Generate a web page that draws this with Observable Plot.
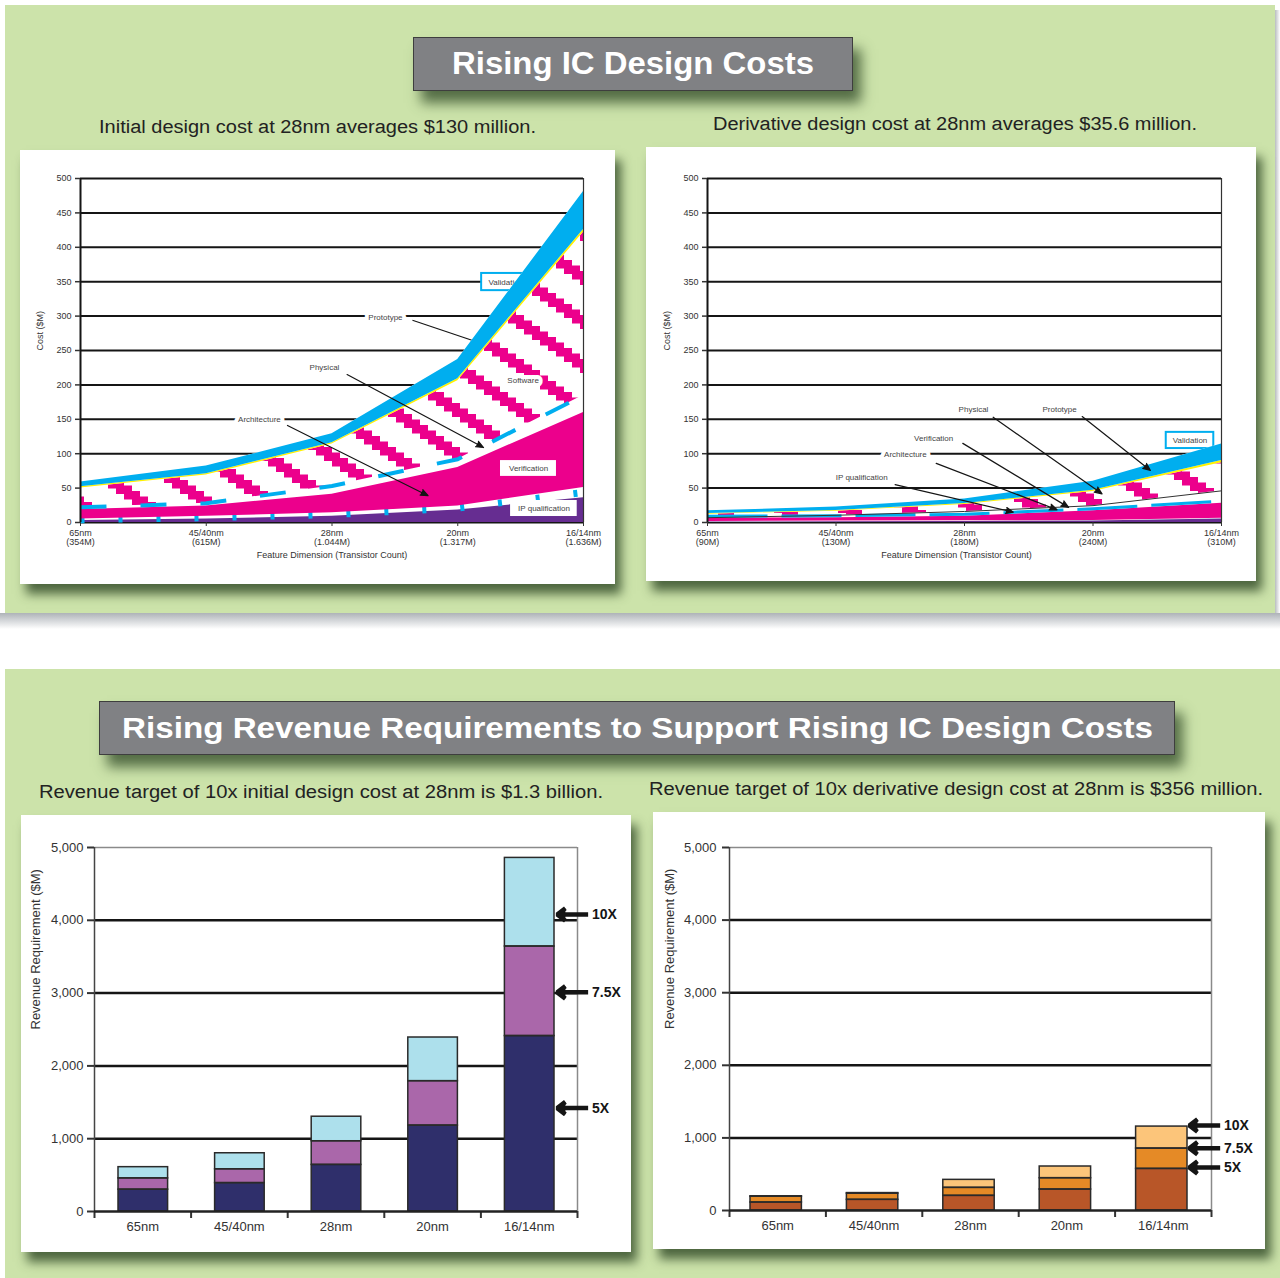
<!DOCTYPE html>
<html>
<head>
<meta charset="utf-8">
<script src="https://cdn.jsdelivr.net/npm/d3@7"></script>
<script src="https://cdn.jsdelivr.net/npm/@observablehq/plot@0.6"></script>
<style>
  html, body { margin: 0; padding: 0; }
  body { width: 1280px; height: 1278px; position: relative; background: #fff; overflow: hidden;
         font-family: "Liberation Sans", Arial, Helvetica, sans-serif; }
  .panel { position: absolute; background: #cce3aa; }
  .card { position: absolute; background: #fff; box-shadow: 6px 10px 10px rgba(55, 80, 45, 0.85); }
  .card svg { position: absolute; left: 0; top: 0; }
  .titlebox { position: absolute; background: #808184; border: 1px solid #3e3e3e; box-sizing: border-box;
              box-shadow: 8px 12px 12px rgba(55, 80, 45, 0.8); overflow: visible; }
  .titlebox span { position: absolute; left: 0; top: 50%; white-space: nowrap; color: #fff; font-weight: bold;
                   transform-origin: 0 50%; }
  .sub { position: absolute; white-space: nowrap; color: #222; font-size: 18px; transform-origin: 0 50%; }
</style>
</head>
<body>
<div class="panel" style="left:5px;top:5px;width:1270px;height:608px"></div>
<div style="position:absolute;left:0;top:613px;width:1280px;height:16px;background:linear-gradient(#aeb3b8,#ffffff)"></div>
<div style="position:absolute;left:1275px;top:10px;width:5px;height:603px;background:linear-gradient(90deg,#b9bdc0,#ffffff)"></div>
<div class="panel" style="left:5px;top:669px;width:1275px;height:609px"></div>

<div class="titlebox" id="t1" style="left:413px;top:37px;width:440px;height:54px"><span data-w="362" style="font-size:31px">Rising IC Design Costs</span></div>
<div class="sub" data-w="437" style="left:99px;top:117px">Initial design cost at 28nm averages $130 million.</div>
<div class="sub" data-w="484" style="left:713px;top:114px">Derivative design cost at 28nm averages $35.6 million.</div>
<div class="card" id="c1" style="left:20px;top:150px;width:595px;height:434px"></div>
<div class="card" id="c2" style="left:646px;top:147px;width:610px;height:434px"></div>

<div class="titlebox" id="t2" style="left:99px;top:701px;width:1076px;height:54px"><span data-w="1031" style="font-size:30px">Rising Revenue Requirements to Support Rising IC Design Costs</span></div>
<div class="sub" data-w="564" style="left:39px;top:782px">Revenue target of 10x initial design cost at 28nm is $1.3 billion.</div>
<div class="sub" data-w="614" style="left:649px;top:779px">Revenue target of 10x derivative design cost at 28nm is $356 million.</div>
<div class="card" id="c3" style="left:21px;top:815px;width:610px;height:437px"></div>
<div class="card" id="c4" style="left:653px;top:812px;width:612px;height:437px"></div>

<script>
// ---------------- DATA ----------------
const nodes = ["65nm", "45/40nm", "28nm", "20nm", "16/14nm"];
const initialTransistors = ["354M", "615M", "1.044M", "1.317M", "1.636M"];
const derivativeTransistors = ["90M", "130M", "180M", "240M", "310M"];
const costTicks = [0, 50, 100, 150, 200, 250, 300, 350, 400, 450, 500];
const revenueTicks = [0, 1000, 2000, 3000, 4000, 5000];
const revenueLevels = ["5X", "7.5X", "10X"];

// Initial design cost ($M): cumulative top of each stacked activity band
const initIPQualification = [3, 5, 9, 18, 36];
const initArchitecture    = [5, 9, 14, 24, 51];
const initVerification    = [19, 24, 41, 80, 160];
const initPhysical        = [22, 28, 53, 92, 185];
const initSoftware        = [50, 69, 114, 206, 422];
const initPrototype       = [52, 71, 116, 209, 426];
const initValidation      = [59, 82, 129, 237, 481];

// Derivative design cost ($M): cumulative top of each stacked activity band
const derivIPQualification = [0.7, 1, 1.5, 2, 5];
const derivArchitecture    = [1.5, 2, 2.5, 3, 6];
const derivVerification    = [6, 7, 9, 17, 28];
const derivPhysical        = [7, 10.5, 16, 24.5, 46];
const derivSoftware        = [12, 16.5, 26, 45, 87];
const derivPrototype       = [13, 17.5, 27.5, 47, 90];
const derivValidation      = [17, 22.5, 34, 60, 114];

// Revenue requirement ($M) at 5X / 7.5X / 10X of design cost
const initRevenue5X    = [300, 390, 640, 1180, 2410];
const initRevenue7_5X  = [455, 580, 965, 1790, 3640];
const initRevenue10X   = [609, 800, 1302, 2390, 4857];
const derivRevenue5X   = [110, 147, 202, 289, 573];
const derivRevenue7_5X = [190, 232, 312, 445, 853];
const derivRevenue10X  = [196, 240, 422, 606, 1156];

// Annotations (in data coordinates: x = node index, y = $M)
const initLabels = [
  {label: "Prototype", x: 2.425, y: 298},
  {label: "Physical", x: 1.94, y: 225},
  {label: "Architecture", x: 1.423, y: 150},
  {label: "Software", x: 3.52, y: 206}
];
const initArrows = [
  {x1: 1.646, y1: 141, x2: 2.764, y2: 39},
  {x1: 2.12, y1: 215, x2: 3.205, y2: 109}
];
const initHiddenLinks = [{x1: 2.64, y1: 294, x2: 3.16, y2: 262}];
const initOutlinedBoxes = [{label: "Validation", x1: 3.19, x2: 3.62, y1: 337, y2: 362, tx: 3.245, ty: 349.5, anchor: "start"}];
const initPlainBoxes = [
  {label: "Verification", x1: 3.34, x2: 3.785, y1: 67, y2: 90, tx: 3.563, ty: 78.5},
  {label: "IP qualification", x1: 3.42, x2: 3.95, y1: 8.7, y2: 32, tx: 3.686, ty: 20.3}
];

const derivLabels = [
  {label: "Physical", x: 2.07, y: 164},
  {label: "Prototype", x: 2.74, y: 164},
  {label: "Verification", x: 1.76, y: 122},
  {label: "Architecture", x: 1.54, y: 99},
  {label: "IP qualification", x: 1.2, y: 65}
];
const derivArrows = [
  {x1: 2.223, y1: 153, x2: 3.07, y2: 41.7},
  {x1: 2.916, y1: 154, x2: 3.447, y2: 75.6},
  {x1: 1.987, y1: 115, x2: 2.81, y2: 22},
  {x1: 1.78, y1: 86, x2: 2.72, y2: 18.5},
  {x1: 1.46, y1: 55, x2: 2.38, y2: 15}
];
const derivOutlinedBoxes = [{label: "Validation", x1: 3.57, x2: 3.94, y1: 107.5, y2: 131, tx: 3.755, ty: 119.2, anchor: "middle"}];

const initRevenueArrows = [
  {label: "10X", y: 4080, xTip: 4.79, xTail: 5.11, xLabel: 5.15},
  {label: "7.5X", y: 3010, xTip: 4.79, xTail: 5.11, xLabel: 5.15},
  {label: "5X", y: 1420, xTip: 4.79, xTail: 5.11, xLabel: 5.15}
];
const derivRevenueArrows = [
  {label: "10X", y: 1171, xTip: 4.77, xTail: 5.09, xLabel: 5.13},
  {label: "7.5X", y: 858, xTip: 4.77, xTail: 5.09, xLabel: 5.13},
  {label: "5X", y: 592, xTip: 4.77, xTail: 5.09, xLabel: 5.13}
];

// ---------------- STYLE ----------------
const FONT = '"Liberation Sans", Arial, Helvetica, sans-serif';
const BLUE = "#00aeef", MAGENTA = "#ec008c", PURPLE = "#662d91", YELLOW = "#fff200";

function addStairsPattern(svg) {
  const sw = 8, sh = 5.5, n = 8, H = sh * n, th = 14;
  let rects = "";
  for (let k = 0; k < n; k++) {
    rects += `<rect x="${k * sw}" y="${k * sh}" width="${sw}" height="${th}" fill="${MAGENTA}"/>`;
    if (k * sh + th > H) rects += `<rect x="${k * sw}" y="${k * sh - H}" width="${sw}" height="${th}" fill="${MAGENTA}"/>`;
  }
  svg.insertAdjacentHTML("afterbegin",
    `<defs><pattern id="stairs" patternUnits="userSpaceOnUse" width="${sw * n}" height="${H}">` +
    `<rect width="${sw * n}" height="${H}" fill="white"/>${rects}</pattern></defs>`);
}

function costChart(o) {
  const rows = nodes.map((n, i) => ({
    i, ip: o.ip[i], arch: o.arch[i], ver: o.ver[i], phy: o.phy[i], sw: o.sw[i], pro: o.pro[i], val: o.val[i]
  }));
  const boxes = o.outlinedBoxes || [];
  const svg = Plot.plot({
    width: o.w, height: o.h,
    marginLeft: o.ml, marginRight: o.mr, marginTop: o.mt, marginBottom: o.mb,
    style: {background: "transparent", fontFamily: FONT, fontSize: "9px", color: "#333", overflow: "visible"},
    x: {domain: [0, 4], label: null},
    y: {domain: [0, 500], label: null},
    marks: [
      Plot.ruleY(costTicks, {stroke: "#151515", strokeWidth: 2}),
      Plot.rect(boxes, {x1: "x1", x2: "x2", y1: "y1", y2: "y2", fill: "white", stroke: BLUE, strokeWidth: 2}),
      Plot.text(boxes, {x: "tx", y: "ty", text: "label", textAnchor: boxes.length ? boxes[0].anchor : "middle", fontSize: 8, fill: "#444"}),
      Plot.link(o.hiddenLinks || [], {x1: "x1", y1: "y1", x2: "x2", y2: "y2", stroke: "#151515", strokeWidth: 1.2}),
      Plot.areaY(rows, {x: "i", y1: 0, y2: "val", fill: "white"}),
      Plot.areaY(rows, {x: "i", y1: 0, y2: "ip", fill: PURPLE}),
      o.derivative
        ? null
        : Plot.lineY(rows, {x: "i", y: d => (d.ip + d.arch) / 2, stroke: BLUE, strokeWidth: 7,
                            strokeDasharray: "4,34", strokeLinecap: "butt"}),
      Plot.areaY(rows, {x: "i", y1: "arch", y2: "ver", fill: MAGENTA}),
      Plot.areaY(rows, {x: "i", y1: "phy", y2: "sw", fill: "url(#stairs)"}),
      o.derivative
        ? Plot.lineY(rows, {x: "i", y: "ver", stroke: BLUE, strokeWidth: 3, dy: -2, strokeDasharray: "60,14", strokeLinecap: "butt"})
        : Plot.lineY(rows, {x: "i", y: "phy", stroke: BLUE, strokeWidth: 4, strokeDasharray: "26,34", strokeLinecap: "butt"}),
      o.derivative
        ? Plot.lineY(rows, {x: "i", y: "phy", stroke: "#333", strokeWidth: 1})
        : null,
      Plot.areaY(rows, {x: "i", y1: "sw", y2: "pro", fill: YELLOW}),
      Plot.areaY(rows, {x: "i", y1: "pro", y2: "val", fill: BLUE}),
      Plot.rect(o.plainBoxes || [], {x1: "x1", x2: "x2", y1: "y1", y2: "y2", fill: "white"}),
      Plot.text(o.plainBoxes || [], {x: "tx", y: "ty", text: "label", fontSize: 8, fill: "#444"}),
      Plot.text(o.labels, {x: "x", y: "y", text: "label", fontSize: 8, fill: "#444", stroke: "white", strokeWidth: 8, paintOrder: "stroke"}),
      Plot.arrow(o.arrows, {x1: "x1", y1: "y1", x2: "x2", y2: "y2", stroke: "#151515", fill: "#151515", strokeWidth: 1.2, headLength: 10, headAngle: 45}),
      Plot.ruleX([0], {stroke: "#151515", strokeWidth: 2}),
      Plot.ruleX([4], {stroke: "#333", strokeWidth: 1.2}),
      Plot.axisY({ticks: costTicks, tickSize: 5, tickPadding: 4, fontSize: 9, strokeWidth: 1.5}),
      Plot.axisX({ticks: [0, 1, 2, 3, 4], tickSize: 4, tickPadding: 3, fontSize: 9,
                  tickFormat: i => `${nodes[i]}\n(${o.counts[i]})`}),
      Plot.text(["Feature Dimension (Transistor Count)"], {frameAnchor: "bottom", dy: 35, dx: o.xLabelDx || 0, fontSize: 9, fill: "#333"}),
      Plot.text(["Cost ($M)"], {frameAnchor: "left", rotate: -90, dx: -40, fontSize: 9, fill: "#333"})
    ].filter(Boolean)
  });
  addStairsPattern(svg);
  return svg;
}

function revenueChart(o) {
  const segs = [];
  nodes.forEach((n, i) => {
    segs.push({i, lo: 0, hi: o.r5[i], level: "5X"});
    segs.push({i, lo: o.r5[i], hi: o.r75[i], level: "7.5X"});
    segs.push({i, lo: o.r75[i], hi: o.r10[i], level: "10X"});
  });
  return Plot.plot({
    width: o.w, height: o.h,
    marginLeft: o.ml, marginRight: o.mr, marginTop: o.mt, marginBottom: o.mb,
    style: {background: "transparent", fontFamily: FONT, fontSize: "13px", color: "#333", overflow: "visible"},
    x: {domain: [0, 5], label: null},
    y: {domain: [0, 5000], label: null},
    color: {domain: revenueLevels, range: o.colors},
    marks: [
      Plot.ruleY([1000, 2000, 3000, 4000], {stroke: "#151515", strokeWidth: 2.5}),
      Plot.ruleY([5000], {stroke: "#8a8a8a", strokeWidth: 1.5}),
      Plot.ruleX([5], {stroke: "#8a8a8a", strokeWidth: 1.5}),
      Plot.rectY(segs, {x1: d => d.i, x2: d => d.i + 1, y1: "lo", y2: "hi", fill: "level",
                        insetLeft: o.insetL, insetRight: o.insetR}),
      Plot.rectY(segs, {x1: d => d.i, x2: d => d.i + 1, y1: "lo", y2: "hi", fill: "none",
                        stroke: "#2a2a2a", strokeWidth: 1.5, insetLeft: o.insetL, insetRight: o.insetR}),
      Plot.ruleX([0], {stroke: "#444", strokeWidth: 1.5}),
      Plot.axisY({ticks: revenueTicks, tickFormat: d3.format(","), tickSize: 7, tickPadding: o.tickPad, fontSize: 13, strokeWidth: 2}),
      Plot.axisX({ticks: [0, 1, 2, 3, 4, 5], tickSize: 7, tickFormat: () => "", strokeWidth: 2}),
      Plot.axisX({ticks: [0.5, 1.5, 2.5, 3.5, 4.5], tickSize: 0, tickPadding: 10, fontSize: 13,
                  tickFormat: d => nodes[Math.floor(d)]}),
      Plot.ruleY([0], {stroke: "#222", strokeWidth: 2.5}),
      Plot.text(["Revenue Requirement ($M)"], {frameAnchor: "left", rotate: -90, dx: o.yLabelDx, fontSize: 13, fill: "#333"}),
      Plot.arrow(o.arrows, {x1: "xTail", x2: "xTip", y1: "y", y2: "y", stroke: "#151515", fill: "#151515",
                            strokeWidth: 4.5, headLength: 9, headAngle: 75, strokeLinecap: "butt"}),
      Plot.text(o.arrows, {x: "xLabel", y: "y", text: "label", textAnchor: "start", fontWeight: "bold", fontSize: 14, fill: "#151515"})
    ]
  });
}

document.getElementById("c1").append(costChart({
  w: 595, h: 434, ml: 60, mr: 32, mt: 28, mb: 62,
  ip: initIPQualification, arch: initArchitecture, ver: initVerification, phy: initPhysical,
  sw: initSoftware, pro: initPrototype, val: initValidation,
  counts: initialTransistors, labels: initLabels, arrows: initArrows, hiddenLinks: initHiddenLinks,
  outlinedBoxes: initOutlinedBoxes, plainBoxes: initPlainBoxes
}));
document.getElementById("c2").append(costChart({
  w: 610, h: 434, ml: 61, mr: 35, mt: 31, mb: 59, derivative: true, xLabelDx: -8,
  ip: derivIPQualification, arch: derivArchitecture, ver: derivVerification, phy: derivPhysical,
  sw: derivSoftware, pro: derivPrototype, val: derivValidation,
  counts: derivativeTransistors, labels: derivLabels, arrows: derivArrows,
  outlinedBoxes: derivOutlinedBoxes
}));
document.getElementById("c3").append(revenueChart({
  w: 610, h: 437, ml: 73, mr: 54, mt: 32, mb: 41, insetL: 24, insetR: 23, tickPad: 4, yLabelDx: -59,
  r5: initRevenue5X, r75: initRevenue7_5X, r10: initRevenue10X,
  colors: ["#2f2f6b", "#aa67aa", "#ade0ec"], arrows: initRevenueArrows
}));
document.getElementById("c4").append(revenueChart({
  w: 612, h: 437, ml: 76, mr: 54, mt: 35, mb: 39, insetL: 21, insetR: 24, tickPad: 6, yLabelDx: -60,
  r5: derivRevenue5X, r75: derivRevenue7_5X, r10: derivRevenue10X,
  colors: ["#b85628", "#e58a26", "#fcc57a"], arrows: derivRevenueArrows
}));

// fit header texts to the widths measured on the reference
document.querySelectorAll("[data-w]").forEach(el => {
  const target = +el.dataset.w;
  const w = el.getBoundingClientRect().width;
  const s = target / w;
  if (el.parentElement.classList.contains("titlebox")) {
    const box = el.parentElement;
    const left = (box.clientWidth - target) / 2;
    el.style.left = left + "px";
    el.style.transform = `translateY(-50%) scaleX(${s})`;
  } else {
    el.style.transform = `scaleX(${s})`;
  }
});
</script>
</body>
</html>
